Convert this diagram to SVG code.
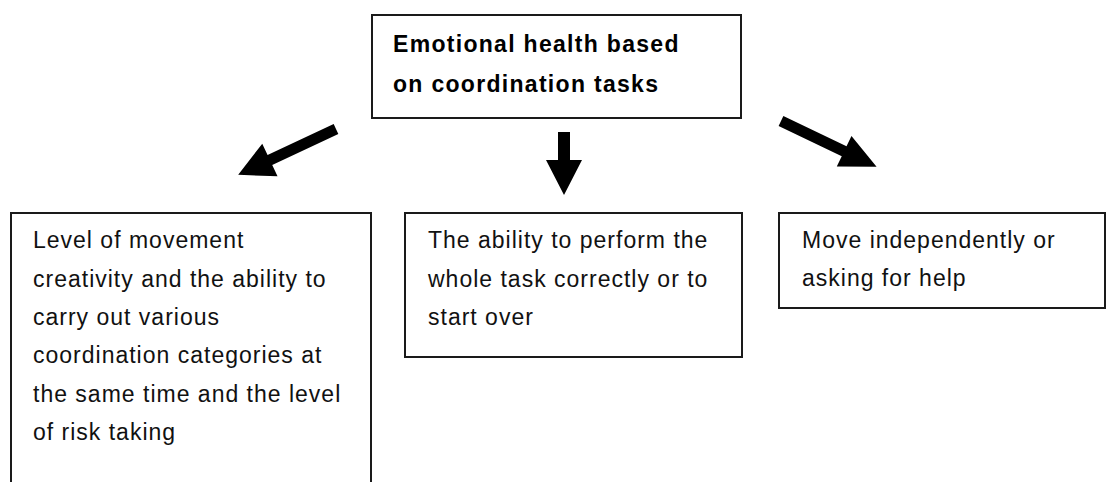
<svg xmlns="http://www.w3.org/2000/svg" width="1113" height="482" viewBox="0 0 1113 482">
<style>
.box{fill:#fff;stroke:#1a1a1a;stroke-width:2}
.t{font-family:"Liberation Sans",Arial,sans-serif;font-size:23px;letter-spacing:1px;fill:#111}
.tb{font-family:"Liberation Sans",Arial,sans-serif;font-size:23px;font-weight:bold;letter-spacing:1.3px;fill:#000}
.arr{fill:#000}
</style>
<rect width="1113" height="482" fill="#fff"/>
<g id="connectors">
<path class="arr" d="M0,-5.5 L73,-5.5 L73,-18 L108,0 L73,18 L73,5.5 L0,5.5 Z" transform="translate(336,129) rotate(154.9)"/>
<polygon class="arr" points="558,132 570,132 570,160 582,160 564,195 546,160 558,160"/>
<path class="arr" d="M0,-5.5 L70,-5.5 L70,-17 L106,0 L70,17 L70,5.5 L0,5.5 Z" transform="translate(781,121) rotate(25.6)"/>
</g>
<g id="root">
<rect class="box" x="372" y="15" width="369" height="103"/>
<text class="tb" x="393" y="52">Emotional health based</text>
<text class="tb" x="393" y="92">on coordination tasks</text>
</g>
<g id="left">
<rect class="box" x="11" y="213" width="360" height="290"/>
<text class="t" x="33" y="248">Level of movement</text>
<text class="t" x="33" y="287">creativity and the ability to</text>
<text class="t" x="33" y="325">carry out various</text>
<text class="t" x="33" y="363">coordination categories at</text>
<text class="t" x="33" y="402">the same time and the level</text>
<text class="t" x="33" y="440">of risk taking</text>
</g>
<g id="middle">
<rect class="box" x="405" y="213" width="337" height="144"/>
<text class="t" x="428" y="248">The ability to perform the</text>
<text class="t" x="428" y="287">whole task correctly or to</text>
<text class="t" x="428" y="325">start over</text>
</g>
<g id="right">
<rect class="box" x="779" y="213" width="326" height="95"/>
<text class="t" x="802" y="248">Move independently or</text>
<text class="t" x="802" y="286">asking for help</text>
</g>
</svg>
